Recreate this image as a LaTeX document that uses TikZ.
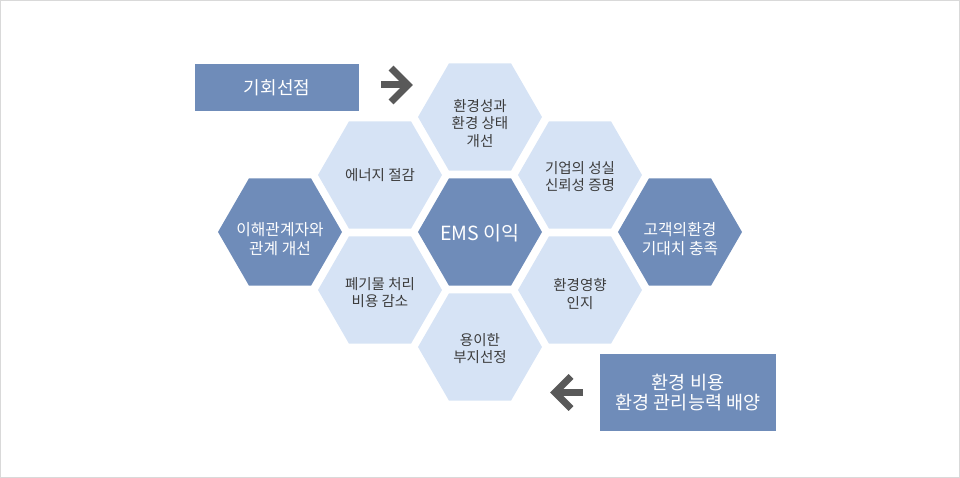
\documentclass[tikz,border=0pt]{standalone}
\usepackage{fontspec}
\setmainfont{Noto Sans CJK KR}
\usetikzlibrary{shapes.geometric}
\definecolor{hexdark}{RGB}{111,140,185}
\definecolor{hexlight}{RGB}{214,227,245}
\definecolor{arrgray}{RGB}{89,89,89}
\definecolor{txtdark}{RGB}{60,60,60}
\definecolor{framegray}{RGB}{217,217,217}
\begin{document}
\begin{tikzpicture}[x=1pt,y=-1pt,
  hexbase/.style={regular polygon, regular polygon sides=6, minimum size=124pt, inner sep=0pt, outer sep=0pt},
  hexL/.style={hexbase, fill=hexlight},
  hexD/.style={hexbase, fill=hexdark},
  lblL/.style={text=txtdark, font=\fontsize{14.5}{17.5}\selectfont, align=center, inner sep=0pt},
  lblD/.style={text=white, font=\fontsize{15.8}{19}\selectfont, align=center, inner sep=0pt},
  boxD/.style={fill=hexdark, text=white, inner sep=0pt, align=center},
  chev/.style={draw=arrgray, line width=7pt, miter limit=10}
]
\path[use as bounding box] (0,0) rectangle (960,478);
\draw[framegray, line width=1pt] (0.5,0.5) rectangle (959.5,477.5);

% boxes
\node[boxD, minimum width=164pt, minimum height=47pt, font=\fontsize{18}{21}\selectfont] (opp) at (277,87.5) {기회선점};
\node[boxD, minimum width=176pt, minimum height=77pt, font=\fontsize{18.5}{20}\selectfont] (cost) at (688,392.5) {환경 비용\\환경 관리능력 배양};

% hexagons
\node[hexD, label={[lblD, yshift=-1pt, font=\fontsize{19.5}{22}\selectfont]center:{EMS 이익}}] (ems) at (480,232) {};
\node[hexL, label={[lblL, yshift=-6.5pt]center:{환경성과\\환경 상태\\개선}}] (perf) at (480,117) {};
\node[hexL, label={[lblL, yshift=0pt]center:{에너지 절감}}] (energy) at (380,175) {};
\node[hexL, label={[lblL, yshift=-1.5pt]center:{기업의 성실\\신뢰성 증명}}] (trust) at (580,175) {};
\node[hexL, label={[lblL, yshift=-2.5pt]center:{폐기물 처리\\비용 감소}}] (waste) at (380,290) {};
\node[hexL, label={[lblL, yshift=-4pt]center:{환경영향\\인지}}] (impact) at (580,290) {};
\node[hexL, label={[lblL, yshift=-1.5pt]center:{용이한\\부지선정}}] (site) at (480,347) {};
\node[hexD, label={[lblD, yshift=-7pt]center:{이해관계자와\\관계 개선}}] (stake) at (280,232) {};
\node[hexD, label={[lblD, yshift=-7pt]center:{고객의환경\\기대치 충족}}] (cust) at (680,232) {};

% arrows
\coordinate (ra1) at (391,68);
\coordinate (rav) at (408,85);
\coordinate (ra2) at (391,102);
\coordinate (ras) at (381,85);
\coordinate (rae) at (405,85);
\draw[chev] (ra1) -- (rav) -- (ra2);
\draw[chev] (ras) -- (rae);

\coordinate (la1) at (571,376.5);
\coordinate (lav) at (555,392.5);
\coordinate (la2) at (571,408.5);
\coordinate (las) at (583,392.5);
\coordinate (lae) at (558,392.5);
\draw[chev] (la1) -- (lav) -- (la2);
\draw[chev] (las) -- (lae);
\end{tikzpicture}
\end{document}
